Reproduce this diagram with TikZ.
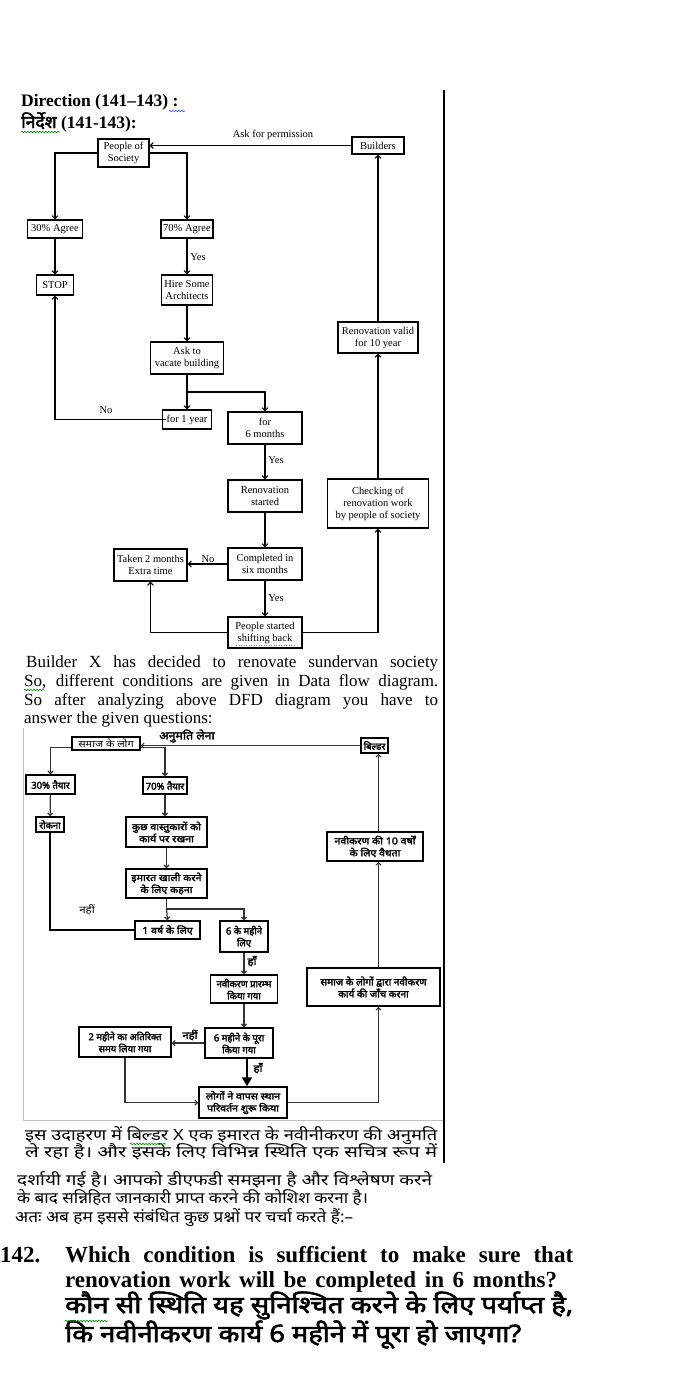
\documentclass[tikz,border=0pt]{standalone}
\usepackage{fontspec}
\setmainfont{Liberation Serif}
\newfontfamily\hin[Script=Devanagari]{Noto Sans}
\newfontfamily\hinb[Script=Devanagari,FakeBold=2.5]{Noto Sans}
\newfontfamily\hinbx[Script=Devanagari,FakeBold=2.5,FakeStretch=1.12]{Noto Sans}
\newfontfamily\hinx[Script=Devanagari,FakeStretch=1.15]{Noto Sans}
\usetikzlibrary{arrows.meta,decorations.pathmorphing}
\newcommand\mkE[5]{\node[ebox,minimum width=#3pt,minimum height=#4pt] (#1) at (#2) {#5};}
\newcommand\mkH[5]{\node[hbox,minimum width=#3pt,minimum height=#4pt] (#1) at (#2) {#5};}
\begin{document}
\begin{tikzpicture}[x=1pt,y=-1pt,
  ebox/.style={draw,line width=1.1pt,inner sep=0pt,align=center,font=\fontsize{10.5}{12}\selectfont},
  hbox/.style={draw,line width=1.5pt,inner sep=0pt,align=center,font=\hinb\fontsize{9.5}{12}\selectfont},
  arr/.style={line width=1.1pt,-{Straight Barb[length=3pt,width=6pt]}},
  hln/.style={line width=1.2pt,draw=black!80},
  harr/.style={hln,-{Straight Barb[length=2.5pt,width=5pt]}},
  lab/.style={inner sep=0pt,font=\fontsize{10.5}{12}\selectfont},
  hlab/.style={inner sep=0pt,font=\hinbx\fontsize{10}{11}\selectfont},
  sq/.style={decorate,decoration={snake,amplitude=0.8pt,segment length=3pt},line width=0.6pt,draw=green!55!black}]
\useasboundingbox (0,0) rectangle (695,1373);
\fill[white] (0,0) rectangle (695,1373);

% heading
\node[anchor=base west,inner sep=0pt,font=\bfseries\fontsize{17.5}{19}\selectfont] (dir) at (21,106) {Direction (141–143) :};
\node[anchor=base west,inner sep=0pt,font=\bfseries\fontsize{17.5}{19}\selectfont] (dirh) at (21,128) {{\hinb निर्देश} (141-143):};
\draw[sq] (21,132) -- (60,132);
\draw[sq,draw=blue!70] (169,111) -- (185,111);

% right border
\draw[line width=1.2pt] (444,90) -- (444,1163);

% ===== English diagram =====
\mkE{pos}{123.5,153}{51}{28}{People of\\Society}
\mkE{bld}{378,145.5}{52}{17}{Builders}
\mkE{a30}{55,229}{55}{18}{30\% Agree}
\mkE{a70}{187,229}{52}{18}{70\% Agree}
\mkE{stop}{55,285}{37}{20}{STOP}
\mkE{hire}{187,290}{51}{30}{Hire Some\\Architects}
\mkE{ask}{187,358}{73}{32}{Ask to\\vacate building}
\mkE{y1}{187,419.5}{49}{19}{for 1 year}
\mkE{m6}{265,428}{74}{32}{for\\6 months}
\mkE{valid}{378,337.5}{80}{31}{Renovation valid\\for 10 year}
\mkE{rs}{265,496}{74}{32}{Renovation\\started}
\mkE{chk}{378,503.5}{101}{49}{Checking of\\renovation work\\by people of society}
\mkE{comp}{265,564}{74}{32}{Completed in\\six months}
\mkE{taken}{150.5,565}{73}{32}{Taken 2 months\\Extra time}
\mkE{psb}{265,632.5}{74}{31}{People started\\shifting back}
\draw[line width=0.5pt,dotted,draw=black!50] (236,645) -- (294,645);

\draw[arr] (bld.west) -- (bld.west -| pos.east);
\node[lab] (lask) at (273,135) {Ask for permission};
\draw[arr] (pos.west) -| (a30.north);
\draw[arr] (pos.east) -| (a70.north);
\draw[arr] (a30) -- (stop);
\draw[arr] (a70) -- (hire);
\node[lab] (lyes1) at (198,257) {Yes};
\draw[arr] (hire) -- (ask);
\coordinate (br) at (187,392);
\draw[line width=1.1pt] (ask.south) -- (br);
\draw[arr] (br) -- (y1.north);
\draw[arr] (br) -| (m6.north);
\draw[arr] ([xshift=4pt]y1.west) -| (stop.south);
\node[lab] (lno1) at (106,410) {No};
\draw[arr] (m6) -- (rs);
\node[lab] (lyes2) at (276,460) {Yes};
\draw[arr] (rs) -- (comp);
\draw[arr] (comp.west) -- (comp.west -| taken.east);
\node[lab] (lno2) at (208,559) {No};
\draw[arr] (comp) -- (psb);
\node[lab] (lyes3) at (276,598) {Yes};
\draw[arr] (psb.west) -| (taken.south);
\draw[arr] (psb.east) -| (chk.south);
\draw[arr] (chk) -- (valid);
\draw[arr] (valid) -- (bld);

% ===== English paragraph =====
\begin{scope}[every node/.style={anchor=base west,inner sep=0pt,font=\fontsize{17}{19}\selectfont}]
\node (p1) at (26,667) {\makebox[412pt][s]{Builder X has decided to renovate sundervan society}};
\node (p2) at (24,686) {\makebox[414pt][s]{So, different conditions are given in Data flow diagram.}};
\node (p3) at (24,705) {\makebox[414pt][s]{So after analyzing above DFD diagram you have to}};
\node (p4) at (24,723) {answer the given questions:};
\end{scope}
\draw[sq] (24,690) -- (44,690);

% ===== Hindi diagram frame =====
\draw[line width=0.8pt,draw=black!25] (23,728) -- (23,1120) -- (443,1120);

\mkH{hsam}{106,743.5}{68}{13}{\hinx समाज के लोग}
\mkH{hbld}{374.5,745.5}{27}{15}{बिल्डर}
\mkH{h30}{50.5,784.5}{49}{19}{30\% तैयार}
\mkH{h70}{165,785.5}{44}{17}{70\% तैयार}
\mkH{hstop}{50,824.5}{28}{15}{रोकना}
\mkH{hhire}{166.5,832}{81}{30}{\hinbx कुछ वास्तुकारों को\\\hinbx कार्य पर रखना}
\mkH{hask}{166.5,883.5}{81}{29}{\hinbx इमारत खाली करने\\\hinbx के लिए कहना}
\mkH{hy1}{167.5,930}{65}{18}{\hinbx 1 वर्ष के लिए}
\mkH{hm6}{244,936.5}{48}{31}{6 के महीने\\लिए}
\mkH{hrs}{244,989}{67}{28}{नवीकरण प्रारम्भ\\किया गया}
\mkH{hchk}{373.5,987}{133}{38}{\fontsize{10}{12}\selectfont समाज के लोगों द्वारा नवीकरण\\\fontsize{10}{12}\selectfont कार्य की जाँच करना}
\mkH{hvalid}{375,846.5}{96}{29}{\hinbx नवीकरण की 10 वर्षों\\\hinbx के लिए वैधता}
\mkH{hcomp}{239,1043}{68}{30}{6 महीने के पूरा\\किया गया}
\mkH{htaken}{125,1042}{92}{30}{2 महीने का अतिरिक्त\\समय लिया गया}
\mkH{hpsb}{243,1102.5}{88}{31}{\hinbx लोगों ने वापस स्थान\\\hinbx परिवर्तन शुरू किया}

\draw[harr] (hbld.west) -- (hbld.west -| hsam.east);
\node[hlab,font=\hinbx\fontsize{11}{12}\selectfont] (lanu) at (187,736) {अनुमति लेना};
\draw[harr] ([yshift=-4pt]hsam.west) -| (h30.north);
\draw[harr] ([yshift=-4pt]hsam.east) -| (h70.north);
\draw[harr] (h30) -- (hstop);
\draw[harr] (h70.south) -- (h70.south |- hhire.north);
\draw[harr] (hhire) -- (hask);
\coordinate (hbr) at (166.5,909);
\draw[hln] (hask.south) -- (hbr);
\draw[harr] (hbr) -- (hy1.north);
\draw[harr] (hbr) -| (hm6.north);
\draw[hln,draw=black] (hy1.west) -| (hstop.south);
\node[inner sep=0pt,font=\hinx\fontsize{10}{11}\selectfont] (lnahi1) at (87,910) {नहीं};
\draw[harr] (hm6) -- (hrs);
\node[hlab] (lha1) at (252,961) {हाँ};
\draw[harr] (hrs.south) -- (hrs.south |- hcomp.north);
\draw[harr] (hcomp.west) -- (hcomp.west -| htaken.east);
\node[hlab] (lnahi2) at (190,1035) {नहीं};
\coordinate (hc1) at (247,1058);
\draw[line width=2pt,-{Triangle[width=10pt,length=9pt]}] (hc1) -- (hc1 |- hpsb.north);
\node[hlab] (lha2) at (258,1068) {हाँ};
\draw[harr] (htaken.south) |- (hpsb.west);
\draw[harr] (hpsb.east) -| ([xshift=5pt]hchk.south);
\draw[harr] ([xshift=5pt]hchk.north) -- ([xshift=5pt]hchk.north |- hvalid.south);
\draw[harr] (hvalid.north -| hbld.south) ++(4pt,0) -- ([xshift=4pt]hbld.south);

% ===== Hindi paragraph =====
\begin{scope}[every node/.style={anchor=base west,inner sep=0pt,font=\hin\fontsize{15.5}{17}\selectfont}]
\node (q1) at (25,1140) {\resizebox{412pt}{\height}{इस उदाहरण में बिल्डर X एक इमारत के नवीनीकरण की अनुमति}};
\node (q2) at (25,1157) {\resizebox{412pt}{\height}{ले रहा है। और इसके लिए विभिन्न स्थिति एक सचित्र रूप में}};
\node (q3) at (17,1185) {\resizebox{415pt}{\height}{दर्शायी गई है। आपको डीएफडी समझना है और विश्लेषण करने}};
\node (q4) at (17,1203) {\resizebox{351pt}{\height}{के बाद सन्निहित जानकारी प्राप्त करने की कोशिश करना है।}};
\node (q5) at (15,1222) {\resizebox{338pt}{\height}{अतः अब हम इससे संबंधित कुछ प्रश्नों पर चर्चा करते हैं:–}};
\end{scope}
\draw[sq] (130,1144) -- (166,1144);

% ===== Question =====
\begin{scope}[every node/.style={anchor=base west,inner sep=0pt,font=\bfseries\fontsize{23}{25}\selectfont}]
\node (qn) at (0,1262) {142.};
\node (e1) at (65,1262) {\makebox[508pt][s]{Which condition is sufficient to make sure that}};
\node (e2) at (65,1287) {\makebox[492pt][s]{renovation work will be completed in 6 months?}};
\end{scope}
\begin{scope}[every node/.style={anchor=base west,inner sep=0pt,font=\hinb\fontsize{24}{26}\selectfont}]
\node (h1) at (65,1313) {\resizebox{508pt}{\height}{कौन सी स्थिति यह सुनिश्चित करने के लिए पर्याप्त है,}};
\node (h2) at (65,1342) {\resizebox{456pt}{\height}{कि नवीनीकरण कार्य 6 महीने में पूरा हो जाएगा?}};
\end{scope}
\draw[sq] (65,1321) -- (108,1321);
\end{tikzpicture}
\end{document}
